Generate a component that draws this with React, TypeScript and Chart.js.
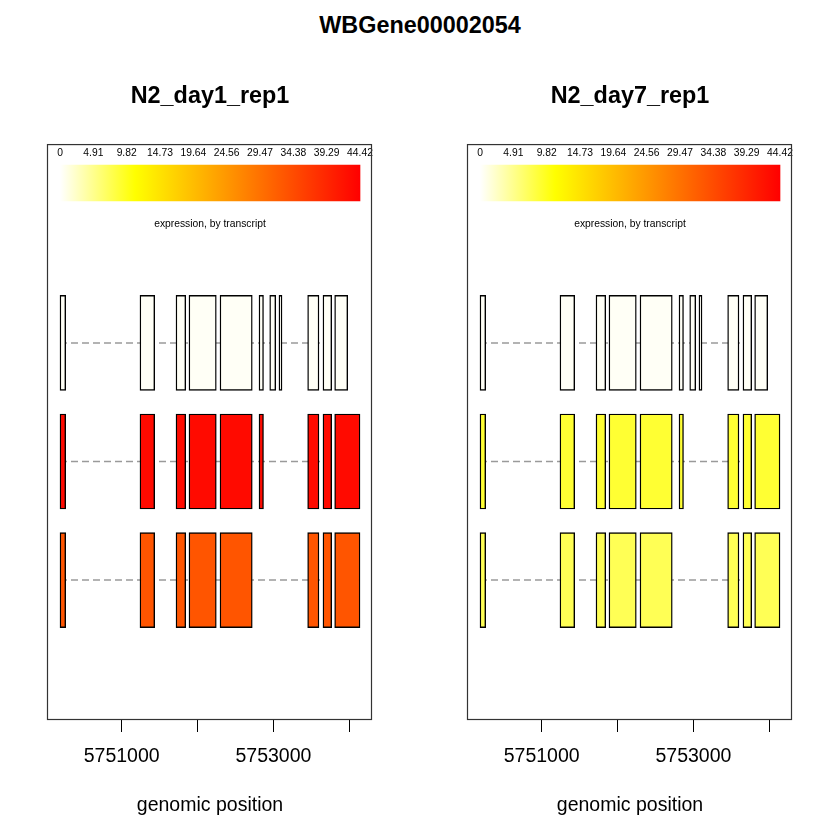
import React, { useEffect, useRef } from 'react';
import { Chart, registerables } from 'chart.js';

Chart.register(...registerables);

// ---------------- data ----------------
const GENE_ID = 'WBGene00002054';
const SAMPLE_NAMES = ['N2_day1_rep1', 'N2_day7_rep1'];
const X_AXIS_TITLE = 'genomic position';
const LEGEND_CAPTION = 'expression, by transcript';

// transcript rows (top to bottom)
const TRANSCRIPT_ROWS = [3, 2, 1];

// exon coordinates per transcript
const T1_STARTS = [5750187, 5751241, 5751716, 5751887, 5752296, 5752810, 5752951, 5753073, 5753451, 5753653, 5753807];
const T1_ENDS = [5750262, 5751435, 5751844, 5752247, 5752721, 5752869, 5753030, 5753113, 5753600, 5753768, 5753979];
const T2_STARTS = [5750187, 5751241, 5751716, 5751887, 5752296, 5752810, 5753451, 5753653, 5753807];
const T2_ENDS = [5750262, 5751435, 5751844, 5752247, 5752721, 5752869, 5753600, 5753768, 5754141];
const T3_STARTS = [5750187, 5751241, 5751716, 5751887, 5752296, 5753451, 5753653, 5753807];
const T3_ENDS = [5750262, 5751435, 5751844, 5752247, 5752721, 5753600, 5753768, 5754141];

// expression per transcript for each sample
const EXPR_DAY1 = [0.4, 43.1, 33.3];
const EXPR_DAY7 = [0.4, 8.9, 7.4];
const EXPR_MAX = 44.42;
const EXPR_TICK_LABELS = ['0', '4.91', '9.82', '14.73', '19.64', '24.56', '29.47', '34.38', '39.29', '44.42'];

// genomic axis ticks
const X_TICKS = [5751000, 5752000, 5753000, 5754000];
const X_LABELED = [5751000, 5753000];

// ---------------- helpers ----------------
const STARTS = [T1_STARTS, T2_STARTS, T3_STARTS];
const ENDS = [T1_ENDS, T2_ENDS, T3_ENDS];
const GENE_START = Math.min(...STARTS.flat());
const GENE_END = Math.max(...ENDS.flat());
const SPAN = GENE_END - GENE_START;
const X_MIN = GENE_START - 0.04 * SPAN;
const X_MAX = GENE_END + 0.04 * SPAN;
const Y_MIN = -0.18;
const Y_MAX = 4.677;
const COLORBAR_Y = 4.349;
const EXPR_LABEL_Y = 4.6;
const CAPTION_Y = 4.0;

const FONT = '"Liberation Sans", Arial, Helvetica, sans-serif';

function heatColor(v: number): string {
  const t = Math.max(0, Math.min(1, v / EXPR_MAX));
  if (t <= 0.25) {
    const b = Math.round(255 * (1 - t / 0.25));
    return `rgb(255,255,${b})`;
  }
  const g = Math.round((255 * (1 - t)) / 0.75);
  return `rgb(255,${g},0)`;
}

const panelDecor = {
  id: 'panelDecor',
  afterDatasetsDraw(chart: any) {
    const { ctx, chartArea, scales } = chart;
    const xs = scales.x;
    const ys = scales.y;
    ctx.save();
    ctx.fillStyle = '#000';
    ctx.font = `10.3px ${FONT}`;
    ctx.textAlign = 'center';
    ctx.textBaseline = 'middle';
    const n = EXPR_TICK_LABELS.length;
    EXPR_TICK_LABELS.forEach((lab, i) => {
      const v = GENE_START + (i * SPAN) / (n - 1);
      ctx.fillText(lab, xs.getPixelForValue(v), ys.getPixelForValue(EXPR_LABEL_Y));
    });
    ctx.fillText(LEGEND_CAPTION, xs.getPixelForValue((GENE_START + GENE_END) / 2), ys.getPixelForValue(CAPTION_Y));
    ctx.strokeStyle = '#333';
    ctx.lineWidth = 1.2;
    const { left, top, right, bottom } = chartArea;
    ctx.strokeRect(left - 0.5, top + 0.5, right - left, bottom - top - 1);
    ctx.restore();
  },
};

function Panel({ title, expr, left }: { title: string; expr: number[]; left: number }) {
  const ref = useRef<HTMLCanvasElement | null>(null);
  useEffect(() => {
    if (!ref.current) return;
    const datasets: any[] = [];
    TRANSCRIPT_ROWS.forEach((row, ti) => {
      datasets.push({
        type: 'line',
        data: [
          { x: Math.min(...STARTS[ti]), y: row },
          { x: Math.max(...ENDS[ti]), y: row },
        ],
        borderColor: '#9A9A9A',
        borderWidth: 1.5,
        borderDash: [7, 4],
        pointRadius: 0,
        fill: false,
        order: 2,
      });
    });
    const exonData: any[] = [];
    const exonColors: string[] = [];
    TRANSCRIPT_ROWS.forEach((row, ti) => {
      STARTS[ti].forEach((s, k) => {
        exonData.push({ x: [s, ENDS[ti][k]], y: row });
        exonColors.push(heatColor(expr[ti]));
      });
    });
    datasets.push({
      type: 'bar',
      data: exonData,
      backgroundColor: exonColors,
      borderColor: '#000',
      borderWidth: 1.4,
      borderSkipped: false,
      barThickness: 95,
      grouped: false,
      order: 1,
    });
    datasets.push({
      type: 'bar',
      data: [{ x: [GENE_START, GENE_END], y: COLORBAR_Y }],
      backgroundColor: (c: any) => {
        const chart = c.chart;
        const xs = chart.scales.x;
        if (!xs || !chart.chartArea) return '#ff0';
        const x0 = xs.getPixelForValue(GENE_START);
        const x1 = xs.getPixelForValue(GENE_END);
        const g = chart.ctx.createLinearGradient(x0, 0, x1, 0);
        g.addColorStop(0, '#FFFFFF');
        g.addColorStop(0.25, '#FFFF00');
        g.addColorStop(1, '#FF0000');
        return g;
      },
      borderWidth: 0,
      barThickness: 36,
      grouped: false,
      order: 1,
    });

    const chart = new Chart(ref.current, {
      type: 'bar',
      data: { datasets },
      options: {
        indexAxis: 'y',
        animation: false,
        responsive: false,
        events: [],
        layout: { padding: { left: 48, right: 48, top: 0, bottom: 22.2 } },
        plugins: {
          legend: { display: false },
          tooltip: { enabled: false },
          title: {
            display: true,
            text: title,
            color: '#000',
            font: { family: FONT, size: 23.4, weight: 'bold' },
            padding: { top: 83, bottom: 33 },
          },
        },
        scales: {
          x: {
            type: 'linear',
            position: 'bottom',
            min: X_MIN,
            max: X_MAX,
            offset: false,
            beginAtZero: false,
            afterBuildTicks: (scale: any) => {
              scale.ticks = X_TICKS.map((v) => ({ value: v }));
            },
            ticks: {
              autoSkip: false,
              maxRotation: 0,
              padding: 13,
              color: '#000',
              font: { family: FONT, size: 19.5 },
              callback: (v: any) => (X_LABELED.includes(Number(v)) ? String(v) : ''),
            },
            grid: {
              display: true,
              offset: false,
              drawOnChartArea: false,
              drawTicks: true,
              tickLength: 12,
              color: '#000',
              lineWidth: 1,
            },
            border: { display: false },
            title: {
              display: true,
              text: X_AXIS_TITLE,
              color: '#000',
              font: { family: FONT, size: 19.5 },
              padding: { top: 13, bottom: 0 },
            },
          },
          y: {
            type: 'linear',
            display: false,
            offset: false,
            grid: { offset: false },
            beginAtZero: false,
            min: Y_MIN,
            max: Y_MAX,
          },
        },
      } as any,
      plugins: [panelDecor],
    });
    return () => chart.destroy();
  }, [title, expr]);
  return (
    <canvas
      ref={ref}
      width={420}
      height={840}
      style={{ position: 'absolute', left, top: 0, width: 420, height: 840 }}
    />
  );
}

export default function App() {
  return (
    <div style={{ position: 'absolute', left: 0, top: 0, width: 840, height: 840, background: '#fff', overflow: 'hidden' }}>
      <div
        style={{
          position: 'absolute',
          left: 0,
          top: 11,
          width: 840,
          textAlign: 'center',
          font: `bold 23.4px ${FONT}`,
          lineHeight: '28px',
          color: '#000',
        }}
      >
        {GENE_ID}
      </div>
      <Panel title={SAMPLE_NAMES[0]} expr={EXPR_DAY1} left={0} />
      <Panel title={SAMPLE_NAMES[1]} expr={EXPR_DAY7} left={420} />
    </div>
  );
}
